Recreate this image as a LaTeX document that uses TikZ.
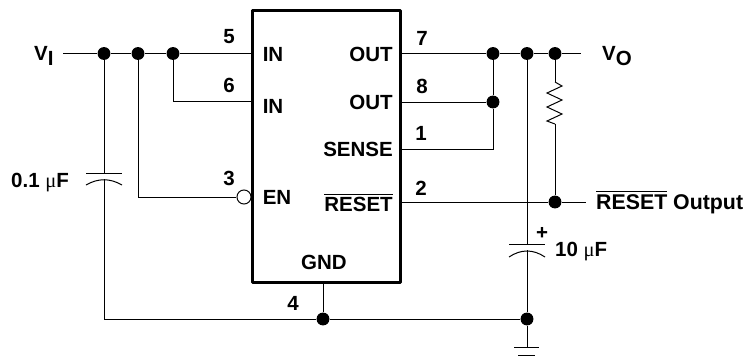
\documentclass[tikz,border=0pt]{standalone}
\usepackage{fontspec}
\usepackage{amsmath}
\setmainfont{Liberation Sans}
\newfontfamily\mufont{Liberation Serif}
\usetikzlibrary{positioning}
\newcommand\micro{{\mufont\mdseries μ}}
\tikzset{
  wire/.style={black, line width=0.85pt},
  dot/.style={circle, fill=black, inner sep=0pt, minimum size=11pt},
  pin/.style={inner sep=0pt, font=\fontsize{17.5}{19}\bfseries},
  chip/.style={draw=black, line width=3pt, inner sep=0pt, minimum width=126.7pt, minimum height=232.2pt, line join=round},
  bubble/.style={circle, draw=black, fill=white, line width=0.85pt, inner sep=0pt, minimum size=12pt}
}
\begin{document}
\begin{tikzpicture}[x=0.03cm, y=-0.03cm]
	\useasboundingbox (0,0) rectangle (744,362);
	% the regulator
	\node[chip] (reg) at (326.5,146.5) {};
	\node[pin] (namein) at (273,54) {IN};
	\node[pin] (nameinb) at (273,106) {IN};
	\node[pin] (nameen) at (277,197) {EN};
	\node[pin, anchor=east] (nameout) at (393,54) {OUT};
	\node[pin, anchor=east] (nameoutb) at (393,102) {OUT};
	\node[pin, anchor=east] (namesense) at (393,149) {SENSE};
	\node[pin, anchor=east] (namereset) at (393,202) {$\overline{\mbox{\bfseries RESET}}$};
	\node[pin] (namegnd) at (324,262) {GND};
	% pin numbers
	\node[pin] (pfive) at (229,37) {5};
	\node[pin] (psix) at (229,85) {6};
	\node[pin] (pthree) at (229,178) {3};
	\node[pin] (pseven) at (422,38) {7};
	\node[pin] (peight) at (422,86) {8};
	\node[pin] (pone) at (421,133) {1};
	\node[pin] (ptwo) at (421,188) {2};
	\node[pin] (pfour) at (293,303) {4};
	% ends of the wires
	\coordinate (vin) at (63,53.5);
	\coordinate (pinfive) at (252,53.5);
	\coordinate (pinsix) at (252,101);
	\coordinate (pinseven) at (401,53.5);
	\coordinate (pineight) at (401,102);
	\coordinate (pinone) at (401,149);
	\coordinate (pintwo) at (401,202);
	\coordinate (pinfour) at (323,283);
	\coordinate (vout) at (581,53.5);
	\coordinate (rout) at (586,202);
	\coordinate (corner) at (104,319);
	\coordinate (enbend) at (138,197);
	\coordinate (sixbend) at (173,101);
	\coordinate (sensebend) at (493,149);
	% junctions
	\node[dot] (ja) at (104,53.5) {};
	\node[dot] (jb) at (138,53.5) {};
	\node[dot] (jc) at (173,53.5) {};
	\node[dot] (jd) at (493,53.5) {};
	\node[dot] (je) at (527,53.5) {};
	\node[dot] (jf) at (555,53.5) {};
	\node[dot] (jg) at (493,102) {};
	\node[dot] (jh) at (555,202) {};
	\node[dot] (ji) at (323,319) {};
	\node[dot] (jj) at (527,319) {};
	\node[bubble] (enb) at (244,197) {};
	% capacitors
	\coordinate (ctopa) at (104,173);
	\coordinate (cbota) at (104,179);
	\coordinate (ctopb) at (527,244);
	\coordinate (cbotb) at (527,250);
	\draw[wire] (86,173)--(122,173);
	\draw[wire] (86,185) .. controls (98,178) and (110,178) .. (122,185);
	\draw[wire] (509,244)--(545,244);
	\draw[wire] (509,257) .. controls (521,249) and (533,249) .. (545,257);
	% the wires
	\draw[wire] (vin)--(ja)--(jb)--(jc)--(pinfive);
	\draw[wire] (jc)--(sixbend)--(pinsix);
	\draw[wire] (jb)--(enbend)--(enb);
	\draw[wire] (ja)--(ctopa);
	\draw[wire] (cbota)--(corner)--(ji)--(jj);
	\draw[wire] (pinfour)--(ji);
	\draw[wire] (pinseven)--(jd)--(je)--(jf)--(vout);
	\draw[wire] (pineight)--(jg);
	\draw[wire] (jd)--(jg)--(sensebend)--(pinone);
	\draw[wire] (pintwo)--(jh)--(rout);
	\draw[wire] (je)--(ctopb);
	\draw[wire] (cbotb)--(jj);
	% resistor
	\coordinate (rtop) at (555,82);
	\coordinate (rbot) at (555,124);
	\draw[wire] (jf)--(rtop);
	\draw[wire] (rtop)--(562,86)--(547,93)--(562,100)--(547,107)--(562,114)--(547,121)--(rbot);
	\draw[wire] (rbot)--(jh);
	% ground
	\coordinate (gnd) at (527,347);
	\draw[wire] (jj)--(gnd);
	\draw[wire] (514,347)--(539,347);
	\draw[wire] (518,355)--(535,355);
	% labels
	\node[pin, anchor=west] (vi) at (34,56) {V\raisebox{-4pt}{I}};
	\node[pin, anchor=west] (vo) at (602,56) {V\raisebox{-4pt}{O}};
	\node[pin, anchor=west, font=\fontsize{18.2}{19}\bfseries] (rlabel) at (596,202) {$\overline{\mbox{\bfseries RESET}}$ Output};
	\node[pin, anchor=west] (cval) at (11,183) {0.1 \micro F};
	\node[pin, anchor=west] (dval) at (555,252) {10 \micro F};
	\node[pin] (plus) at (542,233) {+};
\end{tikzpicture}
\end{document}
